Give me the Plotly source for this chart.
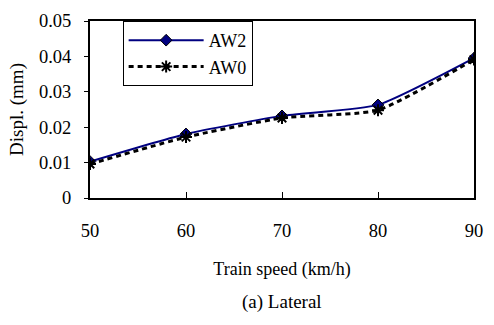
import plotly.graph_objects as go

speeds = [50, 60, 70, 80, 90]
aw2 = [0.0103, 0.0181, 0.0232, 0.0263, 0.0395]
aw0 = [0.0096, 0.0172, 0.0226, 0.0248, 0.0391]
yticks = [0, 0.01, 0.02, 0.03, 0.04, 0.05]
ytick_text = ["0", "0.01", "0.02", "0.03", "0.04", "0.05"]

FONT = "Liberation Serif, Times New Roman, Times, serif"

fig = go.Figure()
fig.add_trace(go.Scatter(
    x=speeds, y=aw2, name="AW2", mode="lines+markers",
    line=dict(color="#000080", width=2, shape="spline", smoothing=0.5),
    marker=dict(symbol="diamond", size=9, color="#000080", line=dict(color="black", width=1)),
))
fig.add_trace(go.Scatter(
    x=speeds, y=aw0, name="AW0", mode="lines+markers",
    line=dict(color="black", width=3, dash="5px,4px", shape="spline", smoothing=0.5),
    marker=dict(symbol="asterisk-open", size=10, color="black", line=dict(color="black", width=2)),
))

fig.update_layout(
    width=494, height=325,
    margin=dict(l=90, r=11, t=19, b=127),
    paper_bgcolor="white", plot_bgcolor="white",
    font=dict(family=FONT, size=18, color="black"),
    showlegend=True,
    legend=dict(
        x=0.085, y=1.0, xanchor="left", yanchor="top",
        bordercolor="black", borderwidth=1, bgcolor="white",
        font=dict(family=FONT, size=18), itemwidth=75,
        tracegroupgap=0,
    ),
    annotations=[dict(
        text="(a) Lateral", x=0.5, y=-0.585, xref="paper", yref="paper",
        showarrow=False, font=dict(family=FONT, size=19), xanchor="center", yanchor="middle",
    )],
)
fig.update_xaxes(
    range=[50, 90], tickvals=speeds, ticks="inside", ticklen=6, tickcolor="black",
    showline=True, linecolor="black", linewidth=2, mirror=True, showgrid=False, zeroline=False,
    ticklabelstandoff=15, tickfont=dict(size=18.5),
    title=dict(text="Train speed (km/h)", font=dict(family=FONT, size=18), standoff=22),
)
fig.update_yaxes(
    range=[0, 0.05], tickvals=yticks, ticktext=ytick_text, ticks="outside", ticklen=4, tickcolor="black",
    showline=True, linecolor="black", linewidth=2, mirror=True, showgrid=False, zeroline=False,
    ticklabelstandoff=9, tickfont=dict(size=18.5),
    title=dict(text="Displ. (mm)", font=dict(family=FONT, size=19), standoff=10),
)
fig.write_html("out.html")
